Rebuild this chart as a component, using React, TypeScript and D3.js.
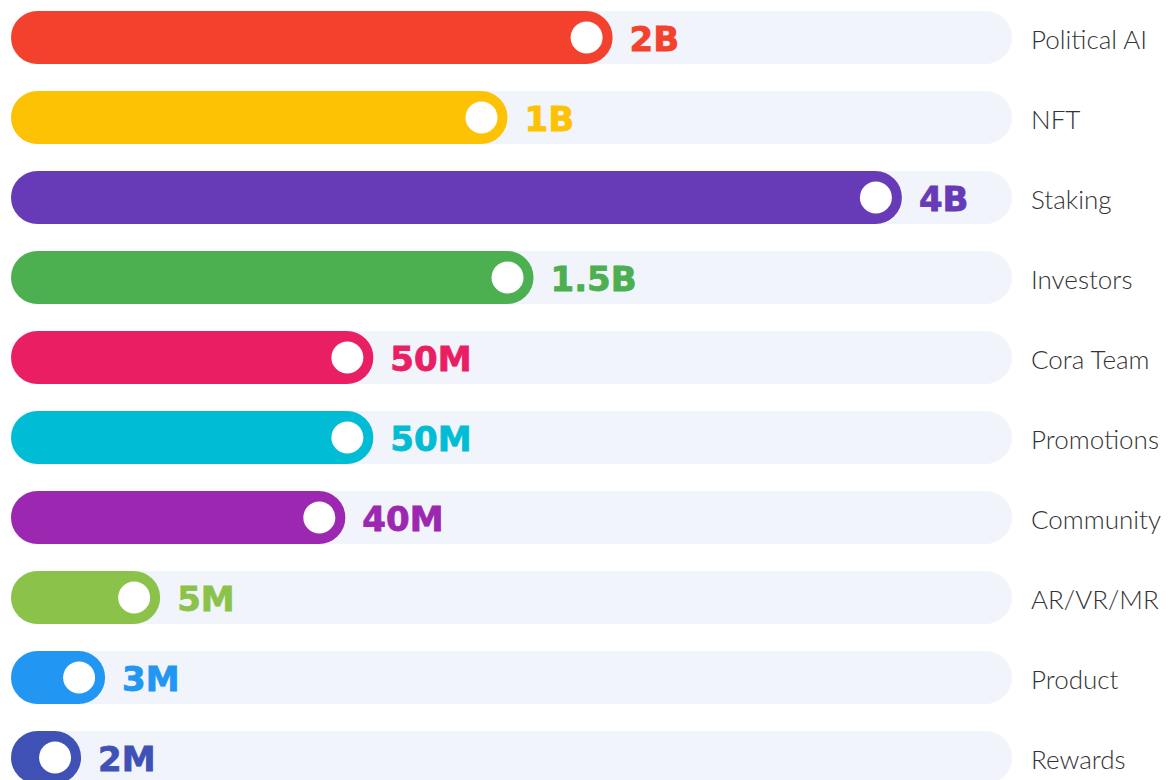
import React from "react";
import * as d3 from "d3";

const categories = ["Political AI", "NFT", "Staking", "Investors", "Cora Team", "Promotions", "Community", "AR/VR/MR", "Product", "Rewards"];
const valueLabels = ["2B", "1B", "4B", "1.5B", "50M", "50M", "40M", "5M", "3M", "2M"];
// displayed fill of each track, percent of track length
const fillPercent = [60.1, 49.6, 89.0, 52.2, 36.2, 36.2, 33.4, 14.9, 9.4, 7.0];
const colors = ["#F4412E", "#FDC203", "#673AB7", "#4CAF50", "#E91E63", "#00BCD4", "#9C27B0", "#8BC34A", "#2196F3", "#3F51B5"];

const W = 1172;
const H = 780;

export default function App() {
  const x = d3.scaleLinear().domain([0, 100]).range([11, 1012]);
  const y = d3.scalePoint<string>().domain(categories).range([37.5, 757.5]);
  const barH = 53;
  const r = barH / 2;
  return (
    <svg width={W} height={H} style={{ position: "absolute", left: 0, top: 0, background: "#fff" }}>
      {categories.map((c, i) => {
        const cy = y(c)!;
        const x0 = x(0);
        const x1 = x(fillPercent[i]);
        return (
          <g key={c}>
            <rect x={x0} y={cy - r} width={x(100) - x0} height={barH} rx={r} fill="#F1F4FB" />
            <rect x={x0} y={cy - r} width={x1 - x0} height={barH} rx={r} fill={colors[i]} />
            <circle cx={x1 - 26} cy={cy} r={16} fill="#fff" />
            <text x={x1 + 17} y={cy + 13} fill={colors[i]} stroke={colors[i]} strokeWidth={0.8} fontFamily="'DejaVu Sans', sans-serif" fontWeight={700} fontSize={34}>
              {valueLabels[i]}
            </text>
            <text x={1031} y={cy + 11} fill="#333" fontFamily="Lato, 'Noto Sans', sans-serif" fontWeight={300} fontSize={26}>
              {c}
            </text>
          </g>
        );
      })}
    </svg>
  );
}
